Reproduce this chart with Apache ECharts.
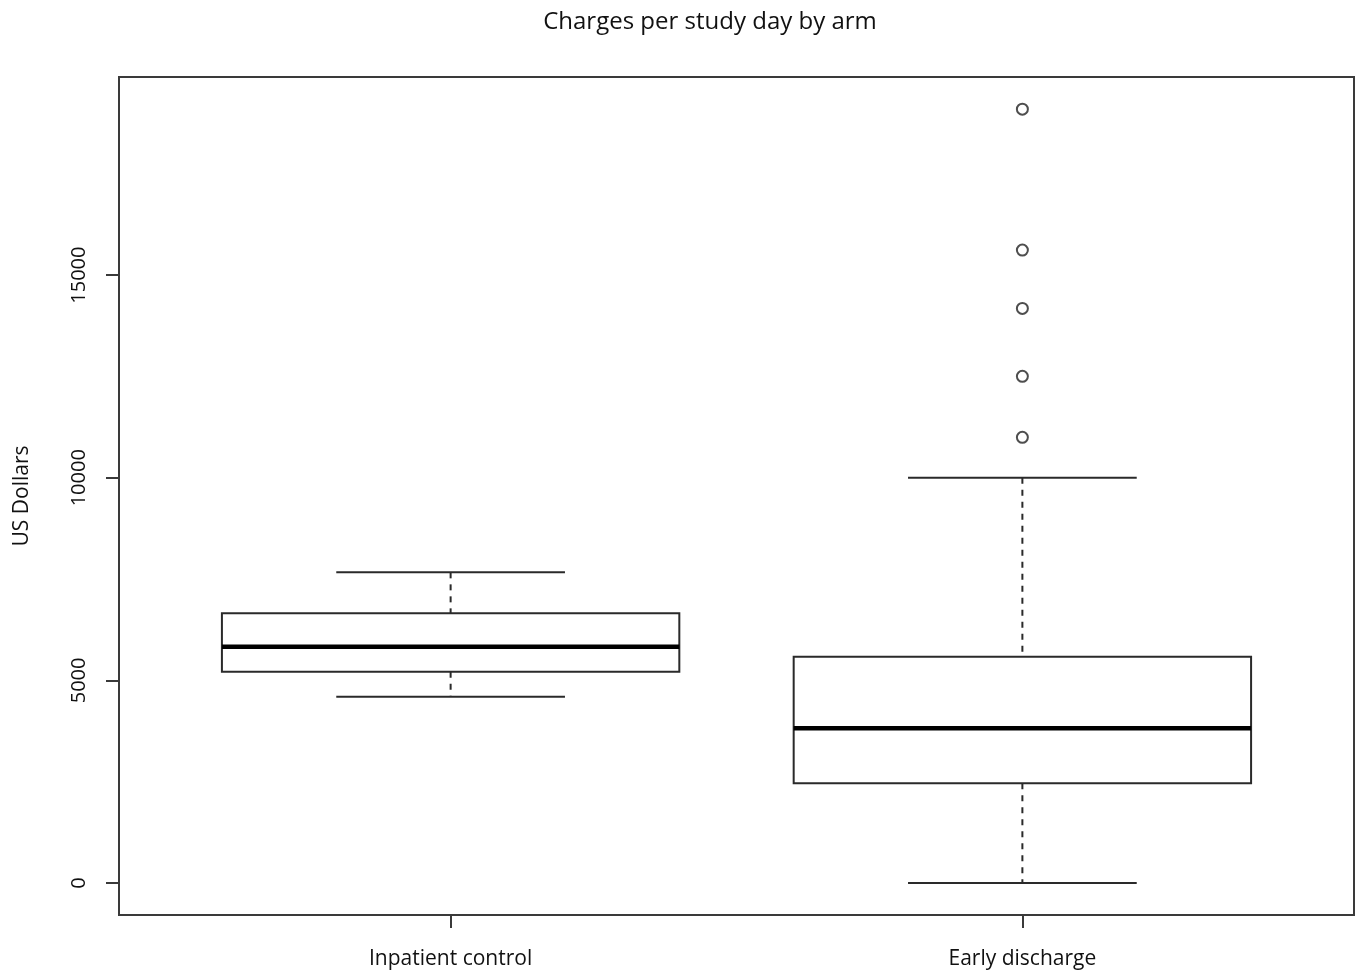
<!DOCTYPE html>
<html>
<head>
<meta charset="utf-8">
<script src="https://cdn.jsdelivr.net/npm/echarts@6/dist/echarts.min.js"></script>
<style>html,body{margin:0;padding:0;background:#fff;}#c{width:1363px;height:979px;}</style>
</head>
<body>
<div id="c"></div>
<script>
const categories = ['Inpatient control', 'Early discharge'];
// [lowerWhisker, Q1, median, Q3, upperWhisker]
const boxStats = [
  [4597, 5213, 5830, 6654, 7666],
  [0, 2460, 3817, 5584, 10000]
];
const outlierGroup = [2, 2, 2, 2, 2];
const outlierValues = [19097, 15618, 14180, 12503, 10997];
const yTicks = [0, 5000, 10000, 15000];
const titleText = 'Charges per study day by arm';

const FONT = 'Open Sans';
const boxData = boxStats.map((s, i) => [i + 1].concat(s));
const outlierData = outlierValues.map((v, i) => [outlierGroup[i], v]);

const chart = echarts.init(document.getElementById('c'));
chart.setOption({
  animation: false,
  backgroundColor: '#fff',
  graphic: [{
    type: 'text', x: 710, y: 22,
    style: { text: titleText, fontFamily: FONT, fontSize: 24, fill: '#111',
             align: 'center', verticalAlign: 'middle' }
  }],
  grid: {
    left: 119, right: 1363 - 1354, top: 77, bottom: 979 - 915,
    show: true, borderColor: '#3a3a3a', borderWidth: 2, backgroundColor: 'transparent'
  },
  xAxis: {
    type: 'value', min: 0.42, max: 2.58,
    splitLine: { show: false },
    axisLine: { show: false, onZero: false },
    axisTick: { show: true, length: 13, customValues: [1, 2], lineStyle: { color: '#3a3a3a', width: 2 } },
    axisLabel: {
      customValues: [1, 2], margin: 34,
      fontFamily: FONT, fontSize: 21, color: '#111',
      formatter: v => categories[Math.round(v) - 1] || ''
    }
  },
  yAxis: {
    type: 'value', min: -790, max: 19890,
    name: 'US Dollars', nameLocation: 'middle', nameGap: 86, nameRotate: 90,
    nameTextStyle: { fontFamily: FONT, fontSize: 21, color: '#111' },
    splitLine: { show: false },
    axisLine: { show: false, onZero: false },
    axisTick: { show: true, length: 13, customValues: yTicks, lineStyle: { color: '#3a3a3a', width: 2 } },
    axisLabel: {
      customValues: yTicks, rotate: 90, margin: 30,
      fontFamily: FONT, fontSize: 20, color: '#111',
      formatter: v => String(v)
    }
  },
  series: [
    {
      type: 'custom',
      data: boxData,
      encode: { x: 0, y: [1, 2, 3, 4, 5] },
      renderItem: function (params, api) {
        const x = api.value(0);
        const lo = api.coord([x, api.value(1)]);
        const q1 = api.coord([x, api.value(2)]);
        const md = api.coord([x, api.value(3)]);
        const q3 = api.coord([x, api.value(4)]);
        const hi = api.coord([x, api.value(5)]);
        const bw = api.size([0.8, 0])[0];
        const cw = api.size([0.4, 0])[0];
        const cx = lo[0];
        const stroke = '#2a2a2a';
        return {
          type: 'group',
          children: [
            { type: 'line', shape: { x1: cx, y1: hi[1], x2: cx, y2: q3[1] },
              style: { stroke: stroke, lineWidth: 2, lineDash: [6, 6] } },
            { type: 'line', shape: { x1: cx, y1: q1[1], x2: cx, y2: lo[1] },
              style: { stroke: stroke, lineWidth: 2, lineDash: [6, 6] } },
            { type: 'line', shape: { x1: cx - cw / 2, y1: hi[1], x2: cx + cw / 2, y2: hi[1] },
              style: { stroke: stroke, lineWidth: 2 } },
            { type: 'line', shape: { x1: cx - cw / 2, y1: lo[1], x2: cx + cw / 2, y2: lo[1] },
              style: { stroke: stroke, lineWidth: 2 } },
            { type: 'rect', shape: { x: cx - bw / 2, y: q3[1], width: bw, height: q1[1] - q3[1] },
              style: { fill: '#fff', stroke: stroke, lineWidth: 2 } },
            { type: 'line', shape: { x1: cx - bw / 2, y1: md[1], x2: cx + bw / 2, y2: md[1] },
              style: { stroke: '#000', lineWidth: 4.5 } }
          ]
        };
      }
    },
    {
      type: 'scatter',
      data: outlierData,
      symbol: 'circle', symbolSize: 11,
      itemStyle: { color: '#fff', borderColor: '#222', borderWidth: 2 }
    }
  ]
});
</script>
</body>
</html>
